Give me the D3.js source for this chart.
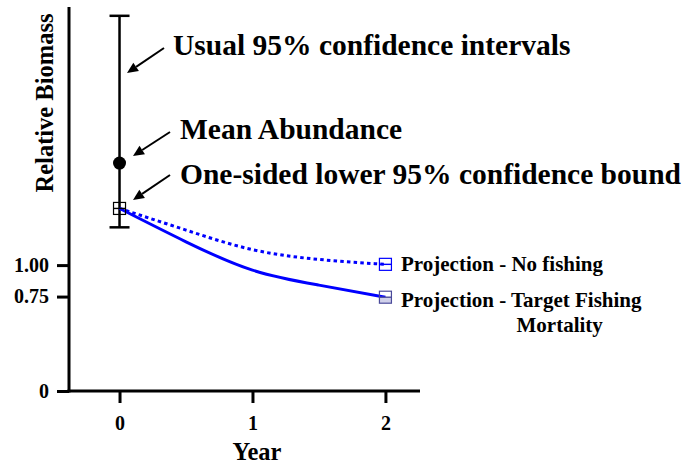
<!DOCTYPE html>
<html><head><meta charset="utf-8">
<script src="https://cdn.jsdelivr.net/npm/d3@7"></script>
<style>body{margin:0;background:#fff}text{font-family:"Liberation Serif","Times New Roman",serif;font-weight:bold;fill:#000}</style>
</head><body><svg id="c" width="683" height="464"></svg>
<script>
const years = [0, 0.5, 1, 1.5, 2];
const noFishing = [1.45, 1.278, 1.123, 1.045, 1.006];
const targetFishing = [1.45, 1.185, 0.96, 0.841, 0.745];
const ciYear = 0, ciLow = 1.30, ciHigh = 2.98, meanAbundance = 1.81, lowerBound = 1.45;
const xTicks = [0, 1, 2];
const yTicks = [0, 0.75, 1.00];
const yTickLabels = ["0", "0.75", "1.00"];

const svg = d3.select("#c");
const x = d3.scaleLinear().domain([-0.38, 2.26]).range([69, 420]);
const y = d3.scaleLinear().domain([0, 3.05]).range([391, 7]);

// axes
const yAxis = svg.append("g").attr("transform","translate(69,0)")
  .call(d3.axisLeft(y).tickValues(yTicks).tickFormat((d,i)=>yTickLabels[i]).tickSize(12).tickPadding(8).tickSizeOuter(0));
const xAxis = svg.append("g").attr("transform","translate(0,391)")
  .call(d3.axisBottom(x).tickValues(xTicks).tickFormat(d3.format("d")).tickSize(12).tickSizeOuter(0));
[yAxis, xAxis].forEach(a=>{
  a.selectAll("path,line").attr("stroke","#000").attr("stroke-width",3);
  a.selectAll("text").attr("font-size",20).attr("fill","#000").attr("font-family","Liberation Serif").attr("font-weight","bold");
});
xAxis.selectAll("text").attr("y",39).attr("dy",0);
yAxis.select("path").attr("d","M0,7V392.5");
xAxis.select("path").attr("d","M67.5,0H420");

svg.append("text").attr("x",257).attr("y",459.5).attr("text-anchor","middle").attr("font-size",24.5).text("Year");
svg.append("text").attr("transform","translate(53,103) rotate(-90)").attr("text-anchor","middle").attr("font-size",24.5).text("Relative Biomass");

// error bar
const g = svg.append("g");
g.append("line").attr("x1",x(ciYear)).attr("x2",x(ciYear)).attr("y1",y(ciHigh)).attr("y2",y(ciLow)).attr("stroke","#000").attr("stroke-width",2.5);
[ciHigh, ciLow].forEach(v=>g.append("line").attr("x1",x(ciYear)-10).attr("x2",x(ciYear)+10).attr("y1",y(v)).attr("y2",y(v)).attr("stroke","#000").attr("stroke-width",2.5));
g.append("circle").attr("cx",x(ciYear)).attr("cy",y(meanAbundance)).attr("r",6.5).attr("fill","#000");

// projection lines
const line = d3.line().curve(d3.curveNatural);
svg.append("path").attr("d", line(years.map((d,i)=>[x(d),y(noFishing[i])]))).attr("fill","none").attr("stroke","#0000ff").attr("stroke-width",3).attr("stroke-dasharray","3.5,3.2");
svg.append("path").attr("d", line(years.map((d,i)=>[x(d),y(targetFishing[i])]))).attr("fill","none").attr("stroke","#0000ff").attr("stroke-width",3);

// square markers
function sq(cx, cy, col, fill){
  const s = 12;
  if (fill) svg.append("rect").attr("x",cx-s/2).attr("y",cy).attr("width",s).attr("height",s/2).attr("fill",fill);
  svg.append("rect").attr("x",cx-s/2).attr("y",cy-s/2).attr("width",s).attr("height",s).attr("fill","none").attr("stroke",col).attr("stroke-width",1.2);
  svg.append("line").attr("x1",cx-s/2).attr("x2",cx+s/2).attr("y1",cy).attr("y2",cy).attr("stroke",col).attr("stroke-width",1.4);
}
sq(x(ciYear), y(lowerBound), "#000");
sq(x(2), y(noFishing[4]), "#0000ff");
sq(x(2), y(targetFishing[4]), "#4a4a9a", "#d0d0ea");

// annotations
function arrow(x1,y1,x2,y2){
  const ang = Math.atan2(y2-y1,x2-x1), L=11, W=5;
  const bx = x2 - L*Math.cos(ang), by = y2 - L*Math.sin(ang);
  svg.append("line").attr("x1",x1).attr("y1",y1).attr("x2",bx).attr("y2",by).attr("stroke","#000").attr("stroke-width",2);
  const px = -Math.sin(ang)*W, py = Math.cos(ang)*W;
  svg.append("path").attr("d",`M${x2},${y2}L${bx+px},${by+py}L${bx-px},${by-py}Z`).attr("fill","#000");
}
arrow(164,48,127,73);
arrow(170,132,133,156);
arrow(170,175,133,200);
svg.append("text").attr("x",173).attr("y",54.5).attr("font-size",29.5).text("Usual 95% confidence intervals");
svg.append("text").attr("x",180).attr("y",138.5).attr("font-size",29.5).text("Mean Abundance");
svg.append("text").attr("x",180).attr("y",183.5).attr("font-size",29.5).text("One-sided lower 95% confidence bound");
svg.append("text").attr("x",401).attr("y",271).attr("font-size",21).text("Projection - No fishing");
svg.append("text").attr("x",401).attr("y",306.5).attr("font-size",21).text("Projection - Target Fishing");
svg.append("text").attr("x",516.5).attr("y",331.5).attr("font-size",21).text("Mortality");
</script></body></html>
